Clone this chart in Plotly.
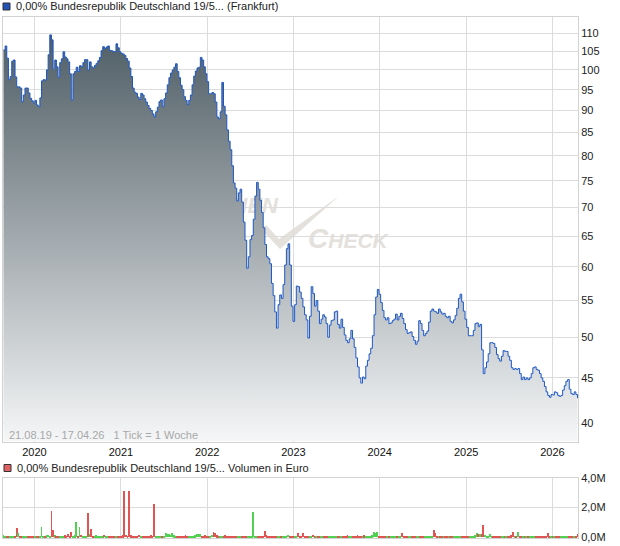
import base64
import math

import pandas as pd
import plotly.graph_objects as go

# weekly closes (1 Tick = 1 Woche), 23.08.2019 .. 17.04.2026
price = [
    105.3, 106.4, 103.1, 97.5, 98.3, 102.3, 102.6, 98.2, 95.7, 95.7,
    95.4, 92.1, 93.7, 95.4, 95.4, 94.2, 92.9, 92.3, 91.8, 92.4,
    91.3, 90.9, 93.0, 97.2, 97.5, 97.4, 100.0, 104.0, 109.5, 108.1,
    100.2, 102.6, 100.8, 98.1, 101.9, 102.9, 104.8, 103.4, 102.9, 102.1,
    99.0, 92.5, 99.0, 99.6, 100.7, 99.6, 101.1, 100.8, 101.9, 102.7,
    102.7, 100.0, 102.1, 100.8, 100.5, 101.2, 101.7, 102.4, 103.3, 105.1,
    106.2, 105.7, 106.1, 106.4, 105.2, 105.1, 104.9, 104.8, 107.0, 105.9,
    104.8, 104.4, 104.2, 103.8, 103.0, 102.3, 100.5, 98.3, 95.4, 94.4,
    94.1, 93.2, 92.6, 94.1, 93.7, 92.8, 92.0, 91.2, 90.5, 90.0,
    89.2, 88.5, 89.7, 90.8, 92.1, 92.5, 90.9, 92.8, 94.2, 96.2,
    98.0, 99.2, 100.0, 100.7, 101.6, 99.6, 98.0, 96.1, 95.0, 93.3,
    92.4, 91.4, 92.4, 93.7, 96.2, 98.4, 99.7, 100.5, 100.7, 103.3,
    102.6, 100.8, 99.0, 97.0, 94.0, 94.0, 94.3, 94.0, 92.0, 88.5,
    88.1, 89.7, 96.8, 91.0, 89.0, 85.6, 83.1, 81.3, 78.0, 74.6,
    73.6, 71.2, 72.7, 73.4, 71.0, 67.4, 64.3, 59.8, 61.6, 64.4,
    65.1, 67.9, 72.1, 74.7, 73.4, 71.3, 69.1, 66.4, 63.6, 61.6,
    61.3, 60.5, 57.5, 55.7, 53.4, 51.2, 54.4, 55.8, 55.3, 57.3,
    60.3, 62.9, 63.7, 60.3, 54.2, 52.1, 54.4, 57.1, 57.0, 56.2,
    55.3, 54.1, 53.0, 52.3, 49.9, 52.8, 57.0, 56.0, 54.2, 55.0,
    53.5, 51.8, 52.4, 53.0, 52.7, 51.8, 50.0, 51.6, 52.2, 52.3,
    53.4, 53.5, 51.7, 51.2, 52.4, 51.3, 50.3, 49.6, 49.3, 49.8,
    50.9, 49.8, 48.7, 47.4, 46.3, 45.0, 44.4, 45.1, 44.9, 46.4,
    47.1, 47.9, 48.6, 50.2, 53.0, 55.5, 56.6, 55.9, 54.7, 53.6,
    52.6, 52.3, 52.6, 51.8, 51.9, 52.2, 52.4, 53.1, 52.3, 52.8,
    53.2, 52.5, 51.8, 51.0, 50.5, 50.6, 50.7, 50.1, 49.6, 49.1,
    49.5, 52.2, 51.8, 50.9, 50.2, 50.5, 50.8, 52.0, 53.5, 53.8,
    53.5, 53.4, 53.2, 53.8, 53.4, 53.1, 53.2, 52.8, 52.6, 52.8,
    52.1, 51.9, 52.3, 52.9, 53.9, 55.3, 55.9, 54.8, 53.5, 52.4,
    51.3, 50.2, 50.2, 50.2, 50.9, 51.8, 51.9, 51.4, 51.7, 48.4,
    45.5, 46.2, 46.9, 47.9, 49.3, 49.3, 49.2, 48.7, 47.8, 47.3,
    47.0, 47.6, 48.3, 48.2, 48.2, 47.6, 47.1, 46.2, 46.0, 46.1,
    46.0, 46.1, 45.5, 44.8, 45.1, 44.8, 45.0, 44.8, 45.0, 45.5,
    46.2, 46.3, 46.0, 45.9, 45.5, 45.0, 44.6, 44.0, 43.4, 43.0,
    42.8, 43.1, 43.05, 43.4, 43.3, 43.0, 42.9, 43.0, 43.6, 44.1,
    44.6, 44.8, 43.7, 43.2, 43.1, 43.4, 43.1, 42.7,
]

# weekly volume in Mio. Euro
volume = [
    0.12, 0.08, 0.05, 0.10, 0.06, 0.09, 0.04, 0.07, 0.64, 0.25, 0.08, 0.06, 0.05, 0.09, 0.07, 0.04, 0.06, 0.08, 0.05, 0.07,
    0.06, 0.05, 0.09, 0.66, 0.10, 0.07, 0.12, 0.15, 0.09, 1.78, 0.50, 0.12, 0.08, 0.10, 0.06, 0.09, 0.07, 0.11, 0.08, 0.20,
    0.10, 0.34, 0.08, 0.12, 1.03, 0.09, 0.71, 0.14, 0.07, 0.10, 0.08, 1.65, 0.20, 0.57, 0.09, 0.06, 0.11, 0.08, 0.07, 0.05,
    0.06, 0.15, 0.05, 0.04, 0.08, 0.06, 0.09, 0.05, 0.07, 0.06, 0.10, 0.08, 0.12, 3.09, 0.15, 0.10, 3.09, 0.12, 0.08, 0.10,
    0.07, 0.09, 0.14, 0.06, 0.08, 0.10, 0.07, 0.05, 0.09, 0.12, 0.10, 2.24, 0.08, 0.06, 0.09, 0.07, 0.10, 0.08, 0.25, 0.18,
    0.22, 0.15, 0.25, 0.12, 0.08, 0.10, 0.07, 0.09, 0.06, 0.08, 0.11, 0.07, 0.09, 0.06, 0.10, 0.08, 0.12, 0.20, 0.18, 0.22,
    0.10, 0.08, 0.12, 0.09, 0.07, 0.10, 0.15, 0.38, 0.30, 0.12, 0.10, 0.08, 0.07, 0.09, 0.11, 0.06, 0.08, 0.10, 0.07, 0.05,
    0.08, 0.06, 0.09, 0.07, 0.05, 0.08, 0.06, 0.10, 0.07, 0.09, 0.06, 1.71, 0.10, 0.07, 0.05, 0.08, 0.06, 0.09, 0.43, 0.12,
    0.08, 0.06, 0.10, 0.07, 0.05, 0.09, 0.06, 0.08, 0.05, 0.07, 0.10, 0.06, 0.15, 0.08, 0.06, 0.09, 0.07, 0.05, 0.25, 0.08,
    0.06, 0.30, 0.09, 0.07, 0.05, 0.08, 0.06, 0.15, 0.07, 0.05, 0.08, 0.06, 0.09, 0.07, 0.05, 0.08, 0.10, 0.06, 0.09, 0.07,
    0.05, 0.08, 0.06, 0.10, 0.07, 0.09, 0.06, 0.08, 0.12, 0.07, 0.10, 0.08, 0.06, 0.09, 0.11, 0.07, 0.10, 0.08, 0.12, 0.09,
    0.07, 0.10, 0.08, 0.12, 0.38, 0.30, 0.35, 0.10, 0.08, 0.06, 0.09, 0.07, 0.10, 0.08, 0.06, 0.09, 0.07, 0.05, 0.08, 0.10,
    0.07, 0.25, 0.09, 0.06, 0.08, 0.10, 0.07, 0.09, 0.06, 0.08, 0.05, 0.10, 0.07, 0.09, 0.06, 0.08, 0.10, 0.07, 0.09, 0.06,
    0.45, 0.30, 0.08, 0.06, 0.09, 0.07, 0.05, 0.08, 0.10, 0.06, 0.09, 0.07, 0.05, 0.08, 0.06, 0.10, 0.07, 0.09, 0.06, 0.08,
    0.10, 0.07, 0.09, 0.06, 0.08, 0.12, 0.25, 0.18, 0.22, 0.20, 0.82, 0.15, 0.10, 0.08, 0.20, 0.07, 0.09, 0.06, 0.08, 0.10,
    0.07, 0.09, 0.06, 0.08, 0.10, 0.07, 0.09, 0.12, 0.35, 0.10, 0.08, 0.35, 0.07, 0.09, 0.06, 0.08, 0.10, 0.07, 0.05, 0.09,
    0.06, 0.08, 0.10, 0.07, 0.09, 0.06, 0.08, 0.05, 0.07, 0.25, 0.09, 0.06, 0.08, 0.10, 0.07, 0.05, 0.08, 0.06, 0.09, 0.07,
    0.10, 0.08, 0.06, 0.09, 0.07, 0.05, 0.08, 0.20,
]

price_ticks = [40, 45, 50, 55, 60, 65, 70, 75, 80, 85, 90, 95, 100, 105, 110]
vol_ticks = [0, 2, 4]
vol_tick_text = ["0,0M", "2,0M", "4,0M"]

TITLE_PRICE = "0,00% Bundesrepublik Deutschland 19/5... (Frankfurt)"
TITLE_VOL = "0,00% Bundesrepublik Deutschland 19/5... Volumen in Euro"
PERIOD_NOTE = "21.08.19 - 17.04.26   1 Tick = 1 Woche"

assert len(price) == len(volume) == 348, (len(price), len(volume))
dates = pd.date_range("2019-08-23", periods=len(price), freq="W-FRI")

W, H = 620, 546
M = dict(l=3, r=42, t=17, b=8)
PW = W - M["l"] - M["r"]
PH = H - M["t"] - M["b"]

FONT = "Liberation Sans, Arial, sans-serif"
GRID = "#dcdcdc"
FRAME = "#d2d2d2"
LINE_BLUE = "#1d57c6"
UP = "#52d052"
DOWN = "#e05454"
Y_LOW, Y_HIGH = 38.16, 114.7


def px_x(x):
    return (x - M["l"]) / PW


def px_y(y):
    return (H - M["b"] - y) / PH


def watermark_uri():
    svg = (
        '<svg xmlns="http://www.w3.org/2000/svg" width="160" height="60">'
        '<g fill="#e4e0db" font-family="Liberation Sans, Arial" font-style="italic" font-weight="bold">'
        '<text x="43" y="21" font-size="22" text-anchor="end">ANLEIHEN</text>'
        '<path d="M26,37 L31,33 L44,47 L104,4 L45,57 Z"/>'
        '<text x="73" y="56"><tspan font-size="28">C</tspan><tspan font-size="21">HECK</tspan></text>'
        "</g></svg>"
    )
    return "data:image/svg+xml;base64," + base64.b64encode(svg.encode()).decode()


fig = go.Figure()

# floor line for the area fill
fig.add_trace(go.Scatter(
    x=dates, y=[Y_LOW] * len(dates), mode="lines", line=dict(width=0, shape="hv"),
    hoverinfo="skip", showlegend=False,
))
fig.add_trace(go.Scatter(
    x=dates, y=price, mode="lines", fill="tonexty",
    line=dict(color=LINE_BLUE, width=1, shape="hv"),
    fillgradient=dict(type="vertical", colorscale=[[0, "#f5f6f7"], [1, "#48575f"]],
                      start=Y_LOW, stop=Y_HIGH),
    showlegend=False,
))

bar_colors = [UP if i == 0 or price[i] >= price[i - 1] else DOWN for i in range(len(price))]
fig.add_trace(go.Bar(
    x=dates, y=volume, marker=dict(color=bar_colors, line=dict(width=0)),
    width=3.6 * 86400000, xaxis="x2", yaxis="y2", showlegend=False,
))

x_range = ["2019-08-21", "2026-04-19"]
common_x = dict(
    type="date", range=x_range, showgrid=True, gridcolor=GRID, zeroline=False,
    showline=True, mirror=True, linecolor=FRAME, linewidth=1,
    tick0="2020-01-01", dtick="M12", ticks="", automargin=False,
)
common_y = dict(
    side="right", showgrid=True, gridcolor=GRID, zeroline=False, ticks="",
    showline=True, mirror=True, linecolor=FRAME, automargin=False,
)

fig.update_layout(
    width=W, height=H, margin=dict(M, autoexpand=False),
    paper_bgcolor="white", plot_bgcolor="white",
    font=dict(family=FONT, size=11, color="#222"),
    bargap=0,
    xaxis=dict(**common_x, domain=[0, 1], anchor="y", tickformat="%Y",
               tickfont=dict(size=11, color="#111")),
    yaxis=dict(**common_y, type="log", domain=[px_y(441.5), 1],
               range=[math.log10(Y_LOW), math.log10(Y_HIGH)],
               tickvals=price_ticks, ticktext=[str(v) for v in price_ticks]),
    xaxis2=dict(**common_x, domain=[0, 1], anchor="y2", showticklabels=False),
    yaxis2=dict(**common_y, domain=[0, px_y(477.7)], range=[-0.08, 4.0],
                tickvals=vol_ticks, ticktext=vol_tick_text),
)

fig.add_layout_image(
    source=watermark_uri(), xref="paper", yref="paper",
    x=px_x(235), y=px_y(192), sizex=160 / PW, sizey=60 / PH,
    xanchor="left", yanchor="top", sizing="stretch", layer="below",
)

# legend squares and captions
for (x0, y0, size, color), text, ty in [
    ((3, 3, 7, "#2152b8"), TITLE_PRICE, 6.5),
    ((4, 464.5, 7, "#e06262"), TITLE_VOL, 468),
]:
    fig.add_shape(type="rect", xref="paper", yref="paper",
                  x0=px_x(x0), x1=px_x(x0 + size), y0=px_y(y0 + size), y1=px_y(y0),
                  fillcolor=color, line=dict(color="#333", width=1))
    fig.add_annotation(text=text, xref="paper", yref="paper", x=px_x(x0 + size + 4), y=px_y(ty),
                       xanchor="left", yanchor="middle", showarrow=False,
                       font=dict(size=11, color="#222"))

fig.add_annotation(text=PERIOD_NOTE, xref="paper", yref="paper", x=px_x(7), y=px_y(435),
                   xanchor="left", yanchor="middle", showarrow=False,
                   font=dict(size=11, color="#a8a8a8"))

# the page would otherwise add the default 8px body margin
fig.write_html("out.html", config={"displayModeBar": False},
               post_script="document.body.style.margin = '0';")
